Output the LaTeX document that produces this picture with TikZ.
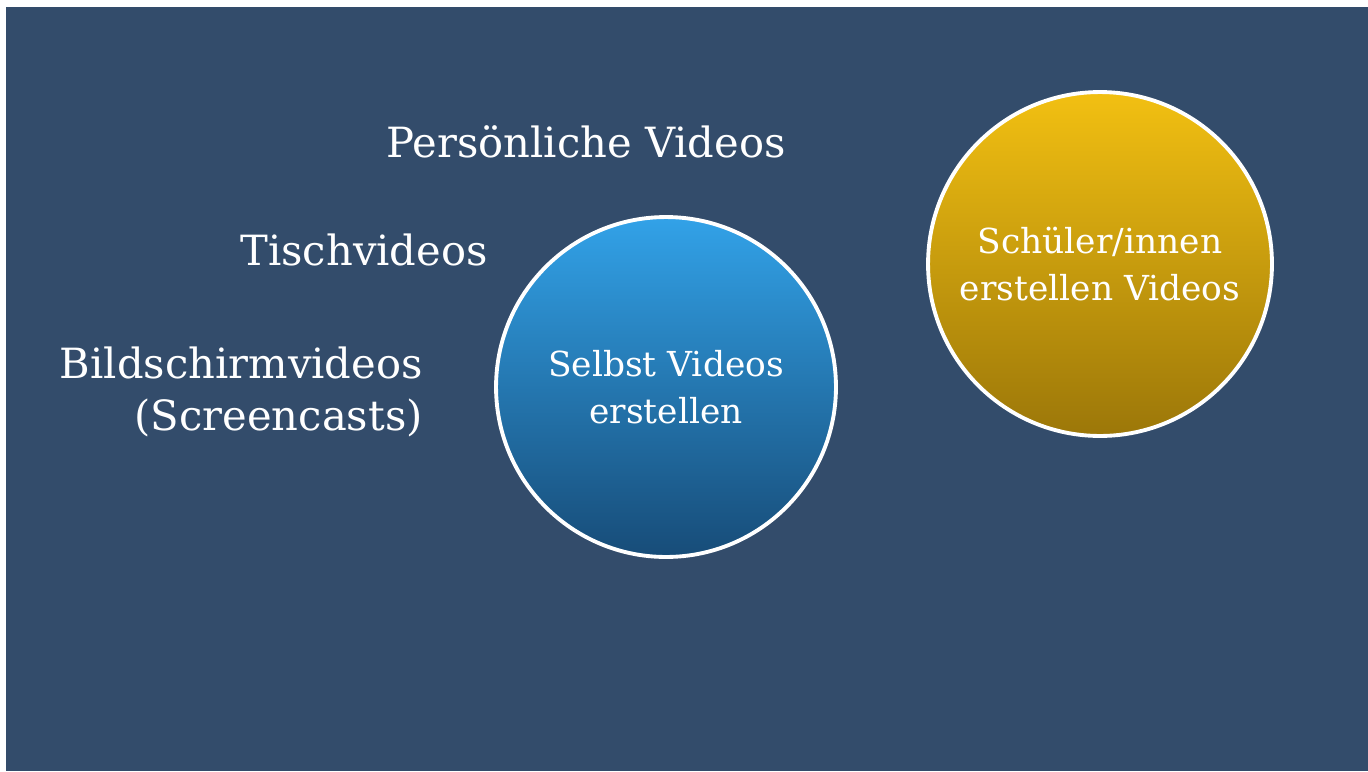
\documentclass[tikz,border=0pt]{standalone}
\usepackage{fontspec}
\setmainfont{DejaVu Serif}
\usepackage{tikz}
\usetikzlibrary{positioning}
\definecolor{slidebg}{HTML}{334C6B}
\definecolor{bluetop}{HTML}{32A2E8}
\definecolor{bluebot}{HTML}{174C78}
\definecolor{goldtop}{HTML}{F2C012}
\definecolor{goldbot}{HTML}{9C7709}
\tikzset{
    bubble/.style = {circle, draw=white, line width=2.2pt, minimum size=6.8cm,
                 align=center, text=white, font=\fontsize{19.6}{27}\selectfont},
    slidetext/.style = {text=white, inner sep=0pt, font=\fontsize{23.7}{30}\selectfont},
}

\begin{document}
\begin{tikzpicture}[x=0.02cm,y=-0.02cm]
 \useasboundingbox (0,0) rectangle (1368,771);
 \fill[white] (0,0) rectangle (1368,771);
 \fill[slidebg] (6,7) rectangle (1368,771);

 \node (n1) [bubble, top color=bluetop, bottom color=bluebot] at (666,387) {Selbst Videos\\erstellen};
 \node (n2) [bubble, top color=goldtop, bottom color=goldbot, minimum size=6.88cm] at (1100,264) {Schüler/innen\\erstellen Videos};

 \node (n3) [slidetext, anchor=base] at (586,157) {Persönliche Videos};
 \node (n4) [slidetext, anchor=base east] at (488,265) {Tischvideos};
 \node (n5) [slidetext, anchor=east, align=right] at (423,392) {Bildschirmvideos\\(Screencasts)};
\end{tikzpicture}
\end{document}
